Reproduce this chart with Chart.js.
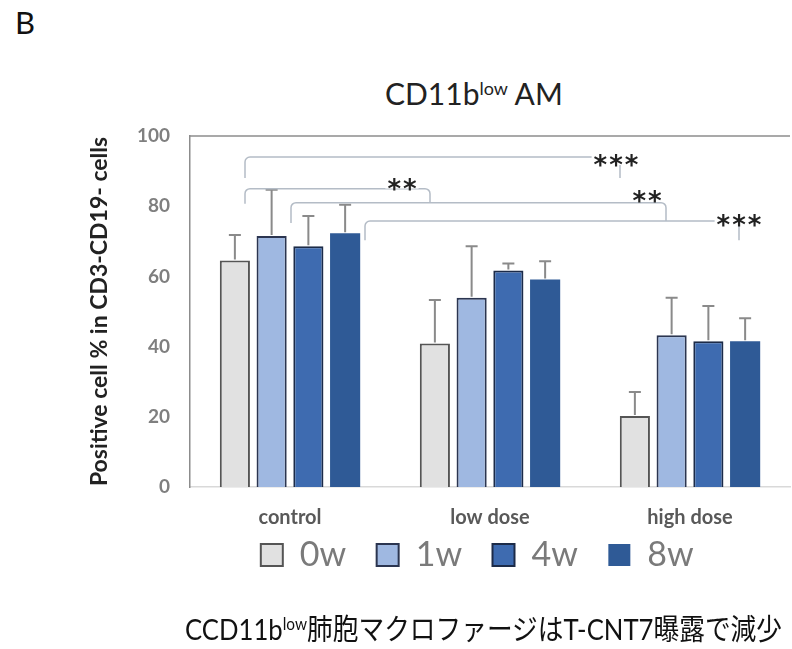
<!DOCTYPE html>
<html>
<head>
<meta charset="utf-8">
<script src="https://cdn.jsdelivr.net/npm/chart.js@4.4.1/dist/chart.umd.min.js"></script>
<style>
  body { margin: 0; background: #fff; width: 792px; height: 649px; position: relative; overflow: hidden; font-family: Lato, "Noto Sans", sans-serif; }
  #chart { position: absolute; left: 0; top: 0; }
  .panel { position: absolute; left: 15px; top: 3px; font-size: 31px; color: #111; }
  .title { position: absolute; left: 385px; top: 75px; font-size: 30px; color: #222; white-space: nowrap; }
  .title sup, .caption sup { font-size: 0.6em; vertical-align: 0.55em; }
  .caption { position: absolute; left: 185px; top: 612px; font-family: Lato, "Noto Sans CJK JP", sans-serif; font-size: 29px; line-height: 1.2; color: #111; white-space: nowrap; transform-origin: left top; }
</style>
</head>
<body>
<div class="panel">B</div>
<div class="title">CD11b<sup>low</sup> AM</div>
<canvas id="chart" width="792" height="649"></canvas>
<div class="caption" id="caption">CCD11b<sup>low</sup>肺胞マクロファージはT-CNT7曝露で減少</div>
<script>
const groups = ['control', 'low dose', 'high dose'];
const weeks = ['0w', '1w', '4w', '8w'];

// mean values
const mean0w = [64.5, 40.9, 20.2];
const mean1w = [71.5, 53.9, 43.2];
const mean4w = [68.6, 61.7, 41.5];
const mean8w = [72.3, 59.1, 41.5];

// upper error bars
const err0w = [7.3, 12.4, 6.9];
const err1w = [13.2, 14.7, 10.7];
const err4w = [8.6, 2.0, 10.1];
const err8w = [8.1, 5.2, 6.6];

const yTicks = [0, 20, 40, 60, 80, 100];

// significance brackets (x in category units, y in %)
const sigLabels = ['***', '**', '**', '***'];
const sigFrom = [-0.225, -0.225, 0.005, 0.375];
const sigTo = [1.65, 0.70, 1.88, 2.245];
const sigLevel = [94, 85, 81, 75.8];
const sigFromEnd = [88, 80.7, 75.2, 70.3];
const sigToEnd = [88, 81, 75.8, 70.3];
const sigTextX = [1.63, 0.56, 1.785, 2.245];
const sigTextY = [94, 87.3, 83.9, 77];

// squeeze caption to the reference width
const cap = document.getElementById('caption');
cap.style.transform = 'scaleX(' + (597 / cap.getBoundingClientRect().width) + ')';

const marks = {
    id: 'marks',
    afterLayout(chart) {
        // pull the legend up closer to the category labels
        chart.legend.top -= 16;
        chart.legend.bottom -= 16;
    },
    afterDatasetsDraw(chart) {
        const { ctx, chartArea, scales: { x, y } } = chart;
        ctx.save();
        // top frame line
        ctx.strokeStyle = '#8c8c8c';
        ctx.lineWidth = 1.5;
        ctx.beginPath();
        ctx.moveTo(chartArea.left, chartArea.top);
        ctx.lineTo(chartArea.right, chartArea.top);
        ctx.stroke();

        // error bars
        ctx.strokeStyle = '#8a8a8a';
        ctx.lineWidth = 2;
        chart.data.datasets.forEach((ds, i) => {
            chart.getDatasetMeta(i).data.forEach((bar, j) => {
                const top = y.getPixelForValue(ds.data[j] + ds.errors[j]);
                ctx.beginPath();
                ctx.moveTo(bar.x, bar.y - 1);
                ctx.lineTo(bar.x, top);
                ctx.moveTo(bar.x - 6, top);
                ctx.lineTo(bar.x + 6, top);
                ctx.stroke();
            });
        });

        // brackets
        ctx.strokeStyle = '#b4bcc6';
        ctx.lineWidth = 1.5;
        sigLabels.forEach((lab, k) => {
            const x1 = x.getPixelForValue(sigFrom[k]);
            const x2 = x.getPixelForValue(sigTo[k]);
            const yl = y.getPixelForValue(sigLevel[k]);
            const y1 = y.getPixelForValue(sigFromEnd[k]);
            const y2 = y.getPixelForValue(sigToEnd[k]);
            ctx.beginPath();
            ctx.moveTo(x1, y1);
            ctx.arcTo(x1, yl, x2, yl, 5);
            ctx.arcTo(x2, yl, x2, y2, 5);
            ctx.lineTo(x2, y2);
            ctx.stroke();
        });
        ctx.font = 'bold 26px "DejaVu Sans"';
        ctx.textAlign = 'center';
        ctx.textBaseline = 'alphabetic';
        ctx.letterSpacing = '2px';
        sigLabels.forEach((lab, k) => {
            const tx = x.getPixelForValue(sigTextX[k]);
            const ty = y.getPixelForValue(sigTextY[k]);
            const w = ctx.measureText(lab).width;
            ctx.fillStyle = '#fff';
            ctx.fillRect(tx - w / 2 - 1, ty - 8, w + 2, 16);
            ctx.fillStyle = '#222';
            ctx.fillText(lab, tx + 1, ty + 17);
        });
        ctx.restore();
    }
};

Chart.defaults.font.family = 'Lato, "Noto Sans", sans-serif';
const baseLabels = Chart.defaults.plugins.legend.labels.generateLabels;

const ctx = document.getElementById('chart').getContext('2d');
const chart = new Chart(ctx, {
    type: 'bar',
    data: {
        labels: groups,
        datasets: [
            { label: weeks[0], data: mean0w, errors: err0w, backgroundColor: '#e1e1e1', borderColor: '#555', borderWidth: 2 },
            { label: weeks[1], data: mean1w, errors: err1w, backgroundColor: '#9fb8e1', borderColor: '#2b3550', borderWidth: 2 },
            { label: weeks[2], data: mean4w, errors: err4w, backgroundColor: '#3e6bb0', borderColor: '#1c2b48', borderWidth: 2 },
            { label: weeks[3], data: mean8w, errors: err8w, backgroundColor: '#2f5a96', borderColor: '#2f5a96', borderWidth: 0 }
        ]
    },
    options: {
        responsive: false,
        animation: false,
        categoryPercentage: 0.735,
        barPercentage: 0.82,
        layout: { padding: { top: 136, left: 86, right: 2, bottom: 51 } },
        plugins: {
            legend: {
                position: 'bottom',
                fullSize: false,
                labels: {
                    boxWidth: 22,
                    boxHeight: 22,
                    padding: 5,
                    color: '#7a7a7a',
                    font: { size: 34 },
                    // wider gaps between items without extra vertical padding
                    generateLabels(chart) {
                        return baseLabels(chart).map(l => Object.assign(l, { text: l.text + '\u00a0\u00a0\u00a0' }));
                    }
                }
            },
            tooltip: { enabled: false }
        },
        scales: {
            x: {
                grid: { display: false, drawTicks: false },
                border: { color: '#d9d9d9', width: 1.5 },
                ticks: { padding: 19, color: '#595959', font: { size: 20, weight: 'bold' } }
            },
            y: {
                min: 0,
                max: 100,
                afterBuildTicks(scale) { scale.ticks = yTicks.map(v => ({ value: v })); },
                afterFit(scale) { scale.width = 104; },
                grid: { display: false, drawTicks: false },
                border: { color: '#8c8c8c', width: 1.5 },
                ticks: { padding: 20, color: '#7f7f7f', font: { size: 19, weight: 'bold' } },
                title: {
                    display: true,
                    text: 'Positive cell % in CD3-CD19- cells',
                    color: '#222',
                    font: { size: 23, weight: 'bold' },
                    padding: { top: 0, bottom: 0 }
                }
            }
        }
    },
    plugins: [marks]
});
</script>
</body>
</html>
